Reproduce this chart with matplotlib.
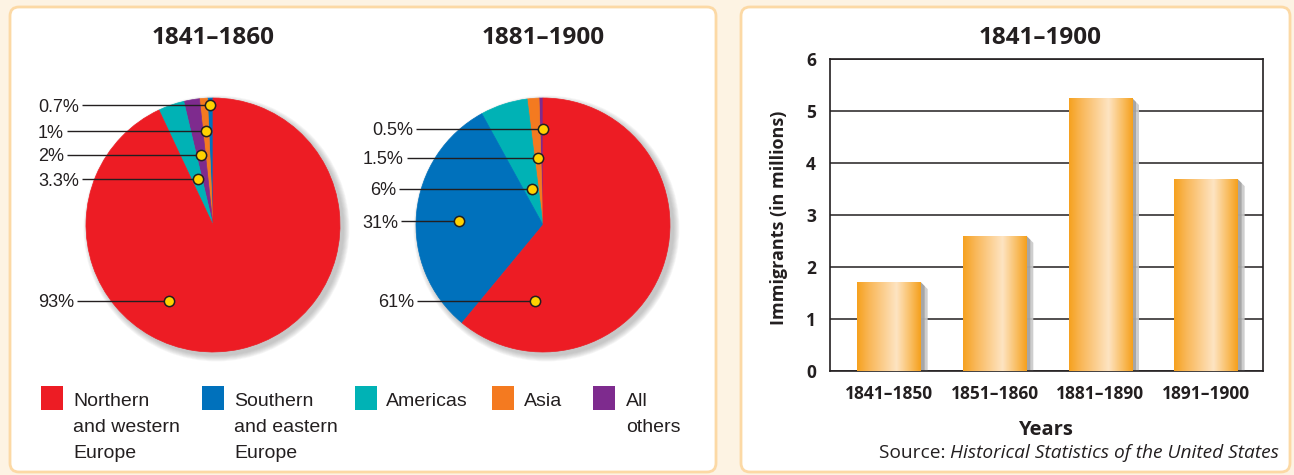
import matplotlib
matplotlib.use('Agg')
import matplotlib.pyplot as plt
import numpy as np
from matplotlib.patches import FancyBboxPatch, Rectangle, Polygon, Circle
from matplotlib.colors import LinearSegmentedColormap

# ---------------- data ----------------
regions = ['Northern\nand western\nEurope', 'Southern\nand eastern\nEurope',
           'Americas', 'Asia', 'All\nothers']
region_colors = ['#ed1c24', '#0071bc', '#00b2b5', '#f47a20', '#7e2b8e']

pie1_title = '1841–1860'
pie1_regions = [1, 3, 4, 2, 0]          # counter-clockwise from the top
pie1_values = [0.7, 1, 2, 3.3, 93]
pie1_labels = ['0.7%', '1%', '2%', '3.3%', '93%']

pie2_title = '1881–1900'
pie2_regions = [4, 3, 2, 1, 0]
pie2_values = [0.5, 1.5, 6, 31, 61]
pie2_labels = ['0.5%', '1.5%', '6%', '31%', '61%']

bar_title = '1841–1900'
decades = ['1841–1850', '1851–1860', '1881–1890', '1891–1900']
immigrants = [1.71, 2.60, 5.25, 3.69]
y_ticks = [0, 1, 2, 3, 4, 5, 6]
x_label = 'Years'
y_label = 'Immigrants (in millions)'
source_prefix = 'Source: '
source_title = 'Historical Statistics of the United States'

# ---------------- layout ----------------
W, H = 1294, 475
TXT = '#231f20'
fig = plt.figure(figsize=(W / 100, H / 100), dpi=100, facecolor='#fdf3e3')
cv = fig.add_axes([0, 0, 1, 1])
cv.set_xlim(0, W)
cv.set_ylim(0, H)
cv.axis('off')


def Y(y):
    return H - y


# panels
for (x0, y0, x1, y1) in [(10, 7, 716, 472), (741, 7, 1290, 472)]:
    cv.add_patch(FancyBboxPatch((x0, Y(y1)), x1 - x0, y1 - y0,
                                boxstyle='round,pad=0,rounding_size=9',
                                facecolor='white', edgecolor='#fcd9a5',
                                lw=2, zorder=0))

TITLE_FONT = dict(family=['Open Sans', 'DejaVu Sans'], fontweight='bold',
                  fontsize=17.5, color=TXT)
LABEL_FONT = dict(family=['Liberation Sans', 'DejaVu Sans'], fontsize=13,
                  color=TXT)

pie_specs = [
    dict(title=pie1_title, regs=pie1_regions, vals=pie1_values,
         labels=pie1_labels, cx=213, cy=225, R=127,
         fracs=[0.5, 0.5, 0.5, 0.4, 0.373],
         rads=[0.945, 0.74, 0.56, 0.38, 0.69],
         lx=[38, 38, 38, 38, 38]),
    dict(title=pie2_title, regs=pie2_regions, vals=pie2_values,
         labels=pie2_labels, cx=543, cy=225, R=127,
         fracs=[0.1, 0.5, 0.45, 0.524, 0.153],
         rads=[0.756, 0.53, 0.30, 0.66, 0.60],
         lx=[372, 363, 370, 362, 378]),
]

pending_lines = []
for sp in pie_specs:
    cx, cy, R = sp['cx'], Y(sp['cy']), sp['R']
    # soft shadow
    for k in range(7):
        cv.add_patch(Circle((cx + 3.5, cy - 3.5), R + 0.5 + k * 0.9,
                            facecolor='#7a7a7a', alpha=0.07, lw=0, zorder=1))
    cols = [region_colors[i] for i in sp['regs']]
    wedges, _ = cv.pie(sp['vals'], colors=cols, startangle=90,
                       counterclock=True, center=(cx, cy), radius=R,
                       frame=False)
    for w, c in zip(wedges, cols):
        w.set_edgecolor(c)
        w.set_linewidth(0.5)
        w.set_zorder(2)
    cv.text(cx, Y(43.5), sp['title'], ha='center', va='baseline', **TITLE_FONT)
    for w, f, r, lab, lx in zip(wedges, sp['fracs'], sp['rads'],
                                sp['labels'], sp['lx']):
        ang = np.deg2rad(w.theta1 + f * (w.theta2 - w.theta1))
        dx_, dy_ = cx + r * R * np.cos(ang), cy + r * R * np.sin(ang)
        cv.plot(dx_, dy_, 'o', ms=7.4, mfc='#ffd200', mec=TXT, mew=1.1,
                zorder=5)
        t = cv.text(lx, dy_ - 6.5, lab, ha='left', va='baseline', zorder=4,
                    **LABEL_FONT)
        pending_lines.append((t, dx_, dy_))

cv.set_xlim(0, W)
cv.set_ylim(0, H)
cv.set_aspect('auto')

# legend
leg_sq_x = [41, 202, 355, 492, 593]
leg_tx_x = [73, 234, 386, 524, 626]
for i, name in enumerate(regions):
    cv.add_patch(Rectangle((leg_sq_x[i], Y(410)), 22, 24,
                           facecolor=region_colors[i], lw=0, zorder=3))
    for j, line in enumerate(name.split('\n')):
        cv.text(leg_tx_x[i], Y(406 + 26 * j), line, ha='left', va='baseline',
                family=['Liberation Sans', 'DejaVu Sans'], fontsize=14,
                color=TXT)

# ---------------- bar chart ----------------
ax_l, ax_r, ax_t, ax_b = 830, 1263, 59, 371
bax = fig.add_axes([ax_l / W, (H - ax_b) / H, (ax_r - ax_l) / W,
                    (ax_b - ax_t) / H])
bax.set_facecolor('white')
x = np.arange(len(decades))
bw = 0.6
bars = bax.bar(x, immigrants, width=bw, color='none', lw=0, zorder=3)
px_x = 1 / 105.7
px_y = 6 / (ax_b - ax_t)
cmap = LinearSegmentedColormap.from_list(
    'barg', [(0, '#f6a11e'), (0.18, '#f9b655'), (0.62, '#fee4c2'),
             (0.85, '#f9bc5e'), (1, '#f5a01c')])
grad = np.linspace(0, 1, 256).reshape(1, -1)
for b in bars:
    x0, x1 = b.get_x(), b.get_x() + b.get_width()
    h = b.get_height()
    # shadow
    for wpx, col, al in [(7, '#c9c9c9', 0.9), (4, '#9c9c9c', 0.8)]:
        bax.add_patch(Polygon([(x1, h), (x1 + wpx * px_x, h - wpx * px_y),
                               (x1 + wpx * px_x, 0), (x1, 0)],
                              closed=True, facecolor=col, alpha=al, lw=0,
                              zorder=2))
    im = bax.imshow(grad, cmap=cmap, extent=(x0, x1, 0, h), aspect='auto',
                    zorder=3, interpolation='bilinear')
    im.set_clip_path(b)

bax.set_xlim(-0.558, 3.54)
bax.set_ylim(0, 6)
bax.set_yticks(y_ticks)
bax.set_yticklabels([str(v) for v in y_ticks], family=['Open Sans', 'DejaVu Sans'],
                    fontweight='bold', fontsize=12.5, color=TXT)
bax.set_xticks(x)
bax.set_xticklabels(decades, family=['Open Sans', 'DejaVu Sans'],
                    fontweight='bold', fontsize=12.5, color=TXT)
bax.tick_params(axis='both', length=0)
bax.tick_params(axis='y', pad=10)
bax.tick_params(axis='x', pad=10)
bax.yaxis.grid(True, color=TXT, lw=1.1, zorder=1)
bax.set_axisbelow(True)
for s in bax.spines.values():
    s.set_color(TXT)
    s.set_linewidth(1.2)

cv.text(1040, Y(43.5), bar_title, ha='center', va='baseline', **TITLE_FONT)
cv.text(779, Y(218), y_label, rotation=90, ha='center', va='center',
        family=['Open Sans', 'DejaVu Sans'], fontweight='bold', fontsize=13,
        color=TXT)
cv.text(1045, Y(435), x_label, ha='center', va='baseline',
        family=['Open Sans', 'DejaVu Sans'], fontweight='bold', fontsize=14.5,
        color=TXT)
src2 = cv.text(1279, Y(458), source_title, ha='right', va='baseline',
               family=['Open Sans', 'DejaVu Sans'], style='italic',
               fontsize=13.8, color=TXT)

fig.canvas.draw()
r = fig.canvas.get_renderer()
bb = src2.get_window_extent(r)
cv.text(bb.x0, Y(458), source_prefix, ha='right', va='baseline',
        family=['Open Sans', 'DejaVu Sans'], fontsize=13.8, color=TXT)
for t, dx_, dy_ in pending_lines:
    e = t.get_window_extent(r)
    cv.plot([e.x1 + 3, dx_], [dy_, dy_], color=TXT, lw=1.0, zorder=4,
            solid_capstyle='butt')

fig.savefig('out.png', dpi=100, facecolor=fig.get_facecolor())
